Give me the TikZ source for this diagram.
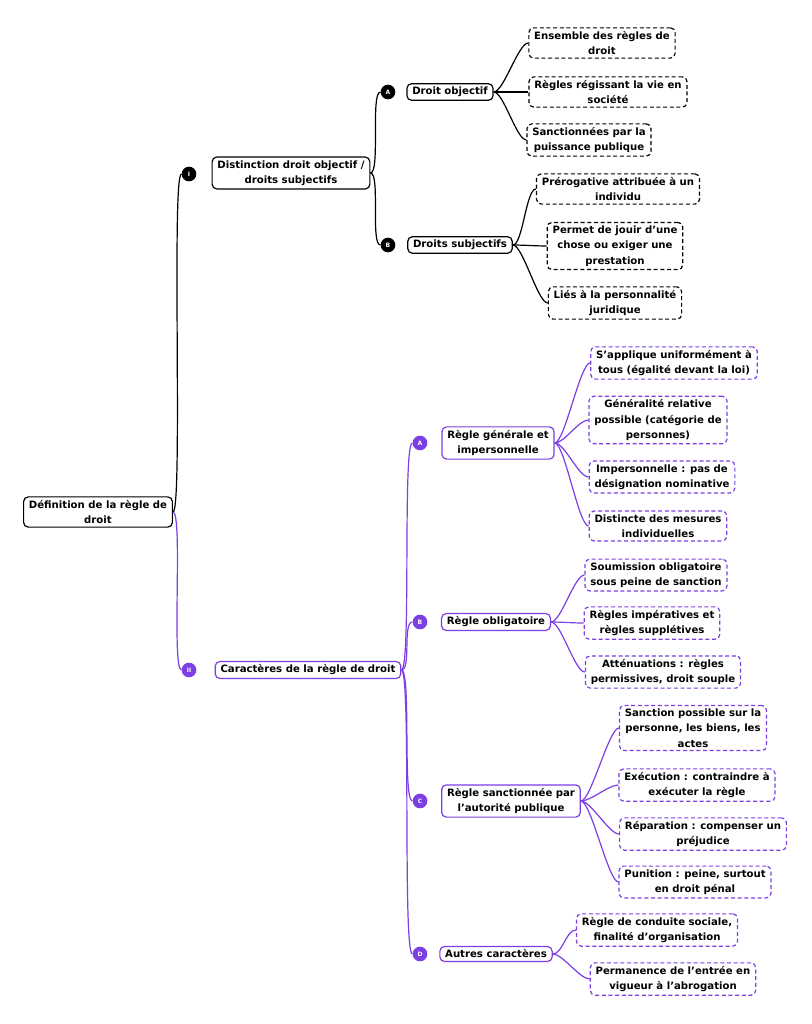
\documentclass[tikz,border=0pt]{standalone}
\usepackage{fontspec}
\setmainfont{DejaVu Sans}
\definecolor{pur}{HTML}{7B3FE4}
\begin{document}
\begin{tikzpicture}[x=0.75pt,y=-0.75pt,
  every node/.style={font=\bfseries\fontsize{7.6}{11.5}\selectfont,align=center},
  box/.style={draw,rounded corners=3.5pt,line width=0.9pt,inner xsep=4pt,inner ysep=2.5pt,fill=white},
  leaf/.style={box,dash pattern=on 3pt off 2pt},
  dot/.style={circle,fill,inner sep=0pt,minimum size=11pt,font=\bfseries\fontsize{4.5}{5}\selectfont,text=white},
  con/.style={line width=0.9pt},
  pb/.style={draw=pur}]
\useasboundingbox (0,0) rectangle (811,1024);
% root
\node[box] (R) at (98,512) {Définition de la règle de\\droit};
% I
\node[dot] (I) at (189,174) {I};
\node[box] (Ib) at (291,173) {Distinction droit objectif /\\droits subjectifs};
\node[dot] (IA) at (388,92) {A};
\node[box] (IAb) at (450,92) {Droit objectif};
\node[dot] (IB) at (388,245) {B};
\node[box] (IBb) at (460,245) {Droits subjectifs};
\node[leaf] (a1) at (602,43) {Ensemble des règles de\\droit};
\node[leaf] (a2) at (608,92) {Règles régissant la vie en\\société};
\node[leaf] (a3) at (589,140) {Sanctionnées par la\\puissance publique};
\node[leaf] (b1) at (618,189) {Prérogative attribuée à un\\individu};
\node[leaf] (b2) at (615,246) {Permet de jouir d'une\\chose ou exiger une\\prestation};
\node[leaf] (b3) at (615,303) {Liés à la personnalité\\juridique};
% II
\node[dot,fill=pur] (II) at (189,670) {II};
\node[box,pb] (IIb) at (308,670) {Caractères de la règle de droit};
\node[dot,fill=pur] (CA) at (420,443) {A};
\node[box,pb] (CAb) at (498,443) {Règle générale et\\impersonnelle};
\node[dot,fill=pur] (CB) at (420,622) {B};
\node[box,pb] (CBb) at (496,622) {Règle obligatoire};
\node[dot,fill=pur] (CC) at (420,801) {C};
\node[box,pb] (CCb) at (511,801) {Règle sanctionnée par\\l'autorité publique};
\node[dot,fill=pur] (CD) at (420,954) {D};
\node[box,pb] (CDb) at (496,954) {Autres caractères};
\node[leaf,pb] (c1) at (674,363) {S'applique uniformément à\\tous (égalité devant la loi)};
\node[leaf,pb] (c2) at (658,420) {Généralité relative\\possible (catégorie de\\personnes)};
\node[leaf,pb] (c3) at (662,477) {Impersonnelle : pas de\\désignation nominative};
\node[leaf,pb] (c4) at (658,526) {Distincte des mesures\\individuelles};
\node[leaf,pb] (d1) at (656,575) {Soumission obligatoire\\sous peine de sanction};
\node[leaf,pb] (d2) at (652,623) {Règles impératives et\\règles supplétives};
\node[leaf,pb] (d3) at (663,672) {Atténuations : règles\\permissives, droit souple};
\node[leaf,pb] (e1) at (693,728) {Sanction possible sur la\\personne, les biens, les\\actes};
\node[leaf,pb] (e2) at (697,785) {Exécution : contraindre à\\exécuter la règle};
\node[leaf,pb] (e3) at (703,834) {Réparation : compenser un\\préjudice};
\node[leaf,pb] (e4) at (695,882) {Punition : peine, surtout\\en droit pénal};
\node[leaf,pb] (f1) at (657,930) {Règle de conduite sociale,\\finalité d'organisation};
\node[leaf,pb] (f2) at (673,979) {Permanence de l'entrée en\\vigueur à l'abrogation};
% connectors
\begin{scope}[on background layer/.style={}]
\foreach \p/\c in {R/I,Ib/IA,Ib/IB,IAb/a1,IAb/a2,IAb/a3,IBb/b1,IBb/b2,IBb/b3}
  \draw[con] (\p.east) .. controls +(10,0) and +(-10,0) .. (\c.west);
\foreach \p/\c in {R/II,IIb/CA,IIb/CB,IIb/CC,IIb/CD,CAb/c1,CAb/c2,CAb/c3,CAb/c4,CBb/d1,CBb/d2,CBb/d3,CCb/e1,CCb/e2,CCb/e3,CCb/e4,CDb/f1,CDb/f2}
  \draw[con,pur] (\p.east) .. controls +(10,0) and +(-10,0) .. (\c.west);
\end{scope}
\end{tikzpicture}
\end{document}
